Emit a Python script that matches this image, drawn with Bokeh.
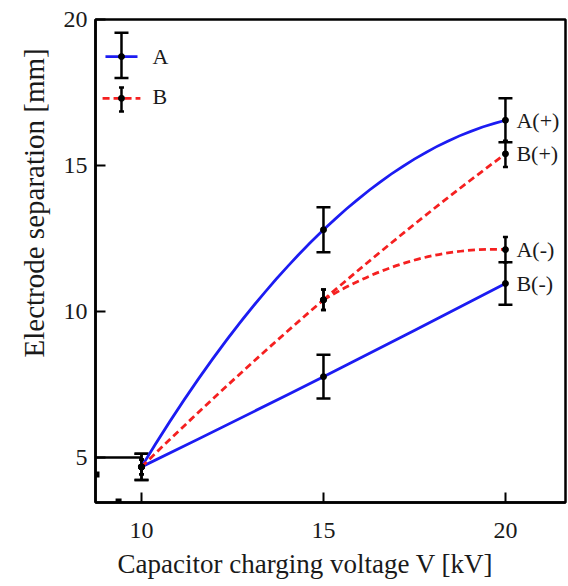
import math
from bokeh.plotting import figure
from bokeh.models import Range1d, FixedTicker, Whisker, TeeHead, ColumnDataSource, Title
from bokeh.core.properties import value
from bokeh.embed import file_html
from bokeh.resources import INLINE

# ---- data ----
volts = [10, 15, 20]
x_ticks = [10, 15, 20]
y_ticks = [5, 10, 15, 20]

a_upper = [4.68, 12.8, 16.55]
a_upper_err = [0.45, 0.77, 0.75]
a_lower = [4.68, 7.77, 10.96]
a_lower_err = [0.45, 0.75, 0.73]
b_upper = [4.68, 10.4, 15.4]
b_upper_err = [0.25, 0.35, 0.45]
b_lower = [4.68, 10.4, 12.12]
b_lower_err = [0.25, 0.35, 0.43]

end_labels = ["A(+)", "B(+)", "A(-)", "B(-)"]
end_values = [a_upper[2], b_upper[2], b_lower[2], a_lower[2]]

legend_names = ["A", "B"]
x_title = "Capacitor charging voltage V [kV]"
y_title = "Electrode separation [mm]"

BLUE = "#1c1cf2"
RED = "#f52020"
FONT = "'Liberation Serif', 'Times New Roman', serif"
TXT = "#1a1a1a"
DASH = "7 4"

X0, X1 = 8.736, 21.65
Y0, Y1 = 3.46, 20.0

p = figure(width=568, height=586, x_range=Range1d(X0, X1), y_range=Range1d(Y0, Y1),
           output_backend="svg", toolbar_location=None,
           min_border_left=95, min_border_right=3, min_border_top=19, min_border_bottom=84)
p.grid.visible = False
p.outline_line_color = "black"
p.outline_line_width = 2.5
p.outline_line_alpha = 1.0
p.background_fill_color = "white"

for ax in (p.xaxis[0], p.yaxis[0]):
    ax.axis_line_width = 2.5
    ax.axis_line_color = "black"
    ax.major_tick_in = 10
    ax.major_tick_out = 0
    ax.major_tick_line_width = 2
    ax.minor_tick_line_color = None
    ax.major_label_text_font = FONT
    ax.major_label_text_font_size = "24px"
    ax.major_label_text_color = TXT
p.xaxis.ticker = FixedTicker(ticks=x_ticks)
p.yaxis.ticker = FixedTicker(ticks=y_ticks)
p.xaxis.major_label_standoff = 20
p.yaxis.major_label_standoff = 8


def half(vals, which, color, dash):
    """Draw one half of the smooth curve through three equally spaced points."""
    h = volts[1] - volts[0]
    if which == 0:
        slope = (-3 * vals[0] + 4 * vals[1] - vals[2]) / (2 * h)
        xa, ya, xb, yb = volts[0], vals[0], volts[1], vals[1]
    else:
        slope = (vals[2] - vals[0]) / (2 * h)
        xa, ya, xb, yb = volts[1], vals[1], volts[2], vals[2]
    p.quadratic(x0=xa, y0=ya, x1=xb, y1=yb, cx=(xa + xb) / 2, cy=ya + slope * (xb - xa) / 2,
                line_color=color, line_width=2.8, line_dash=dash)


def errs(vals, err, cap):
    src = ColumnDataSource(dict(x=volts,
                                upper=[v + e for v, e in zip(vals, err)],
                                lower=[v - e for v, e in zip(vals, err)]))
    w = Whisker(base="x", upper="upper", lower="lower", source=src, dimension="height",
                line_width=2.5, line_color="black",
                upper_head=TeeHead(size=cap, line_width=2.5, line_color="black"),
                lower_head=TeeHead(size=cap, line_width=2.5, line_color="black"))
    p.add_layout(w)
    p.scatter(volts, vals, size=6, color="black")


# A: blue solid, each a smooth curve
for vals in (a_upper, a_lower):
    half(vals, 0, BLUE, "solid")
    half(vals, 1, BLUE, "solid")
# B: red dashed, shared first part, separate second part
half(b_upper, 0, RED, DASH)
half(b_upper, 1, RED, DASH)
half(b_lower, 1, RED, DASH)

errs(b_upper, b_upper_err, 5)
errs(b_lower, b_lower_err, 5)
errs(a_upper, a_upper_err, 14)
errs(a_lower, a_lower_err, 14)

# labels at the 20 kV ends
p.text(x=[volts[2]] * 4, y=end_values, text=end_labels, x_offset=11,
       text_baseline="middle", text_align="left",
       text_font=value(FONT), text_font_size="22px", text_color=TXT)

# step line at y=5 near the origin
p.segment(x0=[X0], y0=[y_ticks[0]], x1=[x_ticks[0]], y1=[y_ticks[0]],
          line_color="black", line_width=2.5)
p.rect(x=[X0], y=[4.42], width=8, height=6, width_units="screen", height_units="screen",
       fill_color="black", line_color=None)
p.rect(x=[9.37], y=[Y0], width=6, height=8, width_units="screen", height_units="screen",
       fill_color="black", line_color=None)

# ---- legend (manual) ----
leg_line_x = [(9.01, 9.89), (8.93, 9.97)]
leg_y = [18.73, 17.3]
leg_bar_x = 9.45
leg_bar = [(18.0, 19.55), (16.85, 17.67)]
leg_caps = [14, 5]
leg_colors = [BLUE, RED]
leg_dash = ["solid", DASH]
for i in range(2):
    p.segment(x0=[leg_line_x[i][0]], y0=[leg_y[i]], x1=[leg_line_x[i][1]], y1=[leg_y[i]],
              line_color=leg_colors[i], line_width=2.8, line_dash=leg_dash[i])
    src = ColumnDataSource(dict(x=[leg_bar_x], upper=[leg_bar[i][1]], lower=[leg_bar[i][0]]))
    p.add_layout(Whisker(base="x", upper="upper", lower="lower", source=src, dimension="height",
                         line_width=2.5, line_color="black",
                         upper_head=TeeHead(size=leg_caps[i], line_width=2.5),
                         lower_head=TeeHead(size=leg_caps[i], line_width=2.5)))
    p.scatter([leg_bar_x], [leg_y[i]], size=6, color="black")
p.text(x=[10.3, 10.3], y=[leg_y[0], leg_y[1] + 0.07], text=legend_names,
       text_baseline="middle", text_align="left",
       text_font=value(FONT), text_font_size="22px", text_color=TXT)

# ---- axis titles ----
p.add_layout(Title(text=y_title, align="left", offset=145, standoff=22,
                   text_font=FONT, text_font_size="29px", text_font_style="normal",
                   text_color=TXT), "left")
p.add_layout(Title(text=x_title, align="left", offset=22, standoff=13,
                   text_font=FONT, text_font_size="27px", text_font_style="normal",
                   text_color=TXT), "below")

open("out.html", "w").write(file_html(p, INLINE))
